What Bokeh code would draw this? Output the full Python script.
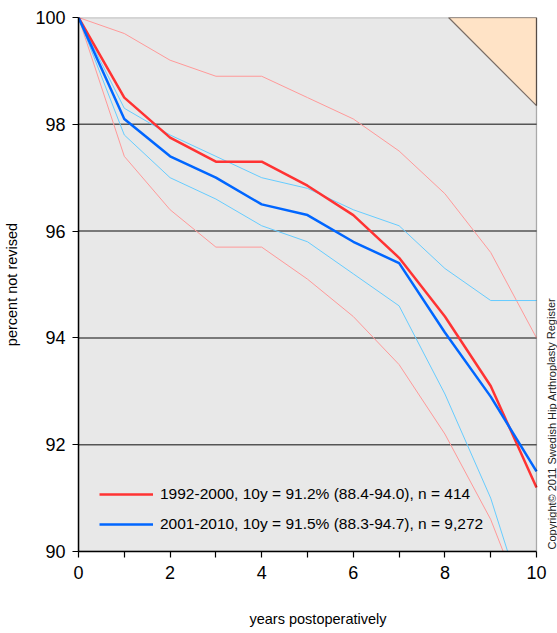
from bokeh.plotting import figure
from bokeh.models import FixedTicker, Legend, LegendItem, Range1d, Label, BoxAnnotation
from bokeh.embed import file_html
from bokeh.resources import INLINE

years = [0, 1, 2, 3, 4, 5, 6, 7, 8, 9, 10]

red_main = [100, 98.5, 97.75, 97.3, 97.3, 96.85, 96.3, 95.5, 94.4, 93.1, 91.2]
red_upper = [100, 99.7, 99.2, 98.9, 98.9, 98.5, 98.1, 97.5, 96.7, 95.6, 94.0]
red_lower = [100, 97.4, 96.4, 95.7, 95.7, 95.1, 94.4, 93.5, 92.2, 90.6, 88.4]

blue_main = [100, 98.1, 97.4, 97.0, 96.5, 96.3, 95.8, 95.4, 94.1, 92.9, 91.5]
blue_upper = [100, 98.3, 97.8, 97.4, 97.0, 96.8, 96.4, 96.1, 95.3, 94.7, 94.7]
blue_lower = [100, 97.8, 97.0, 96.6, 96.1, 95.8, 95.2, 94.6, 92.95, 91.0, 88.3]

x_ticks = [0, 2, 4, 6, 8, 10]
x_minor = [1, 3, 5, 7, 9]
y_ticks = [90, 92, 94, 96, 98, 100]
grid_y = [92, 94, 96, 98]

label_red = "1992-2000, 10y = 91.2% (88.4-94.0), n = 414"
label_blue = "2001-2010, 10y = 91.5% (88.3-94.7), n = 9,272"
copyright_text = "Copyright\u00a9 2011 Swedish Hip Arthroplasty Register"

tri_x = [8.08, 10, 10]
tri_y = [100, 100, 98.35]

X0, X1 = years[0], years[-1]
Y0, Y1 = y_ticks[0], y_ticks[-1]

FONT = "Liberation Sans"

# frame extends slightly right of x=10 to leave room for the copyright note
p = figure(width=557, height=633, output_backend="svg", toolbar_location=None,
           x_range=Range1d(X0, X1 + 0.4585), y_range=Range1d(Y0, Y1),
           min_border_left=78, min_border_right=0, min_border_top=17, min_border_bottom=82)
p.background_fill_color = "white"
p.border_fill_color = "white"
p.outline_line_color = None
p.xgrid.grid_line_color = None
p.ygrid.grid_line_color = None

p.add_layout(BoxAnnotation(left=X0, right=X1, bottom=Y0, top=Y1, level="underlay",
                           fill_color="#e8e8e8", fill_alpha=1, line_color=None))
p.segment(x0=[X0] * len(grid_y), x1=[X1] * len(grid_y), y0=grid_y, y1=grid_y,
          line_color="#555555", line_width=1.5)

p.patch(tri_x, tri_y, fill_color="#ffe3c6", line_color="#7a6e66", line_width=1.2)

p.line(years, red_upper, line_color="#ff9999", line_width=1)
p.line(years, red_lower, line_color="#ff9999", line_width=1)
p.line(years, blue_upper, line_color="#66ccff", line_width=1)
p.line(years, blue_lower, line_color="#66ccff", line_width=1)
r_red = p.line(years, red_main, line_color="#ff3333", line_width=2.5)
r_blue = p.line(years, blue_main, line_color="#0066ff", line_width=2.5)

p.add_layout(BoxAnnotation(left=X0, right=X1, bottom=Y0, top=Y1, level="overlay",
                           fill_alpha=0, line_color="black", line_width=1.3))

legend = Legend(items=[LegendItem(label=label_red, renderers=[r_red]),
                       LegendItem(label=label_blue, renderers=[r_blue])],
                location=(21, 17), padding=0, margin=0, spacing=10,
                glyph_width=54, glyph_height=20, label_standoff=7,
                background_fill_alpha=0, border_line_alpha=0,
                label_text_font=FONT, label_text_font_size="15.5px",
                label_text_color="black")
p.add_layout(legend)

p.xaxis.ticker = FixedTicker(ticks=x_ticks, minor_ticks=x_minor)
p.xaxis.bounds = (X0, X1)
p.yaxis.ticker = FixedTicker(ticks=y_ticks)
for ax in (p.xaxis, p.yaxis):
    ax.axis_line_color = "black"
    ax.axis_line_width = 1.5
    ax.major_tick_line_color = "black"
    ax.major_tick_line_width = 1.2
    ax.major_tick_out = 6
    ax.major_tick_in = 0
    ax.major_label_text_font = FONT
    ax.major_label_text_font_size = "18px"
    ax.major_label_text_color = "black"
    ax.axis_label_text_font = FONT
    ax.axis_label_text_font_size = "14.5px"
    ax.axis_label_text_font_style = "normal"
    ax.axis_label_text_color = "black"
p.xaxis.minor_tick_line_color = "black"
p.xaxis.minor_tick_line_width = 1.2
p.xaxis.minor_tick_out = 6
p.xaxis.minor_tick_in = 0
p.yaxis.minor_tick_line_color = None
p.xaxis.major_label_standoff = 8
p.yaxis.major_label_standoff = 7
p.xaxis.axis_label = "years postoperatively"
p.yaxis.axis_label = "percent not revised"
p.xaxis.axis_label_standoff = 29
p.yaxis.axis_label_standoff = 12

p.add_layout(Label(x=X1, y=Y0, x_offset=15, y_offset=2, angle=1.5708,
                   text=copyright_text, text_font=FONT, text_font_size="11px",
                   text_color="#222222", text_align="left", text_baseline="middle"))

open("out.html", "w").write(file_html(p, INLINE))
